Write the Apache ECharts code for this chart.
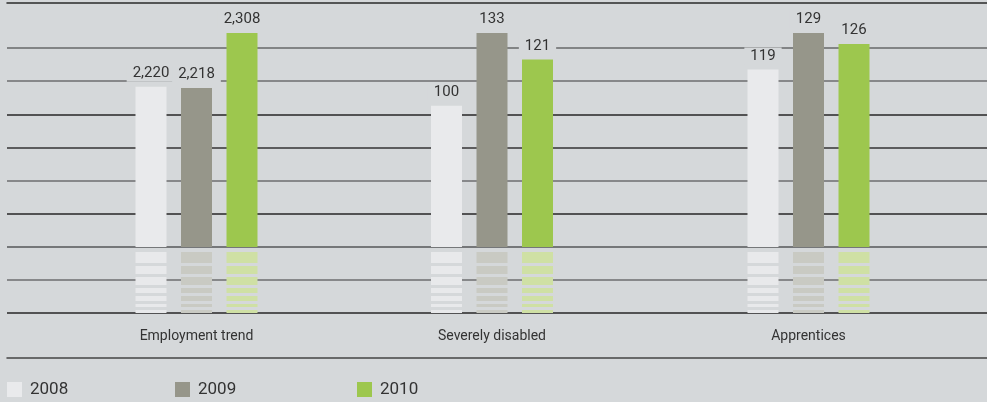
<!DOCTYPE html>
<html>
<head>
<meta charset="utf-8">
<script src="https://cdn.jsdelivr.net/npm/echarts@6/dist/echarts.min.js"></script>
<style>
  html, body { margin: 0; padding: 0; background: #d5d8da; }
  #chart { width: 987px; height: 402px; }
</style>
</head>
<body>
<div id="chart"></div>
<script>
// data
var groups = ['Employment trend', 'Severely disabled', 'Apprentices']
var years = ['2008', '2009', '2010']
var values2008 = [2220, 100, 119]
var values2009 = [2218, 133, 129]
var values2010 = [2308, 121, 126]

var yearValues = [values2008, values2009, values2010]
// each group has its own truncated scale (tallest bar reaches the top)
var axisMin = [1958, 36, 70.5]

var BG = '#d5d8da'
var barColors = ['#e9eaec', '#96968a', '#9dc74e']
var stripeColors = ['#e8e9eb', '#c9cac3', '#cfe0a4']
var centers = [196.5, 492, 808.5]
var GRID_W = 160
var BAR_W = 31
var BAR_STEP = 45.5
// fading stripes below the break, px offsets from the break line
var STRIPES = [[4, 15], [18, 26], [29, 37], [40, 45], [48, 53], [56, 59], [62, 65]]
var FONT = 'Roboto, "DejaVu Sans", sans-serif'

var chart = echarts.init(document.getElementById('chart'))

var grid = [
  { left: 7, right: 0, top: 48, bottom: 89 },
  { left: 7, right: 0, top: 3, bottom: 44 }
]
var xAxis = [
  { gridIndex: 0, type: 'value', show: false },
  { gridIndex: 1, type: 'value', position: 'top', axisLine: { show: true, onZero: false, lineStyle: { color: '#2a2a2a', width: 1.5 } }, axisTick: { show: false }, axisLabel: { show: false }, splitLine: { show: false } },
  { gridIndex: 1, type: 'value', position: 'bottom', axisLine: { show: true, onZero: false, lineStyle: { color: '#444', width: 1.5 } }, axisTick: { show: false }, axisLabel: { show: false }, splitLine: { show: false } }
]
var yAxis = [
  {
    gridIndex: 0, type: 'value', min: 0, max: 8, interval: 1,
    axisLine: { show: false }, axisTick: { show: false }, axisLabel: { show: false },
    splitLine: { show: true, lineStyle: { width: 1.6, color: ['#262626', '#6c6e6f', '#555758', '#262626', '#6c6e6f', '#333', '#262626', '#6c6e6f', '#666869'] } }
  },
  { gridIndex: 1, type: 'value', show: false }
]
var series = []

groups.forEach(function (g, i) {
  grid.push({ left: centers[i] - GRID_W / 2, width: GRID_W, top: 33, bottom: 155 })
  xAxis.push({ gridIndex: 2 + i, type: 'category', data: [g], axisLine: { show: false }, axisTick: { show: false }, axisLabel: { show: false } })
  yAxis.push({
    gridIndex: 2 + i, type: 'value', min: axisMin[i],
    max: function (v) { return v.max },
    show: false, splitLine: { show: false }
  })
  years.forEach(function (y, j) {
    series.push({
      name: y,
      type: 'bar',
      xAxisIndex: 3 + i,
      yAxisIndex: 2 + i,
      barWidth: BAR_W,
      barGap: ((BAR_STEP - BAR_W) / BAR_W * 100) + '%',
      itemStyle: { color: barColors[j] },
      label: {
        show: true,
        position: 'top',
        distance: 5,
        color: '#333',
        fontSize: 15,
        fontFamily: FONT,
        backgroundColor: BG,
        padding: [1, 6],
        formatter: function (p) { return p.value.toLocaleString('en-US') }
      },
      data: [yearValues[j][i]]
    })
  })
})

groups.forEach(function (g, i) {
  grid.push({ left: centers[i] - GRID_W / 2, width: GRID_W, top: 248, bottom: 89 })
  xAxis.push({
    gridIndex: 5 + i, type: 'category', data: [g],
    axisLine: { show: false }, axisTick: { show: false },
    axisLabel: { show: true, margin: 16, color: '#333', fontSize: 14, fontFamily: FONT }
  })
  yAxis.push({ gridIndex: 5 + i, type: 'value', min: 0, max: 65, inverse: true, show: false, splitLine: { show: false } })
  series.push({
    name: 'break' + i,
    type: 'custom',
    xAxisIndex: 6 + i,
    yAxisIndex: 5 + i,
    silent: true,
    renderItem: function (params, api) {
      var cx = api.coord([0, 0])[0]
      var children = []
      years.forEach(function (y, j) {
        var x = cx + (j - 1) * BAR_STEP - BAR_W / 2
        STRIPES.forEach(function (s) {
          var y0 = api.coord([0, s[0]])[1]
          var y1 = api.coord([0, s[1]])[1]
          children.push({ type: 'rect', shape: { x: x, y: y0, width: BAR_W, height: y1 - y0 }, style: { fill: stripeColors[j] } })
        })
      })
      return { type: 'group', children: children }
    },
    data: [[0, 0]]
  })
})

var legendLefts = [7, 175, 357]
var legend = years.map(function (y, j) {
  return {
    data: [y],
    left: legendLefts[j],
    top: 381,
    icon: 'rect',
    itemWidth: 15,
    itemHeight: 15,
    padding: 0,
    textStyle: { color: '#333', fontSize: 17, fontFamily: FONT, padding: [0, 0, 0, 3] }
  }
})

chart.setOption({
  backgroundColor: BG,
  animation: false,
  legend: legend,
  grid: grid,
  xAxis: xAxis,
  yAxis: yAxis,
  series: series
})
</script>
</body>
</html>
